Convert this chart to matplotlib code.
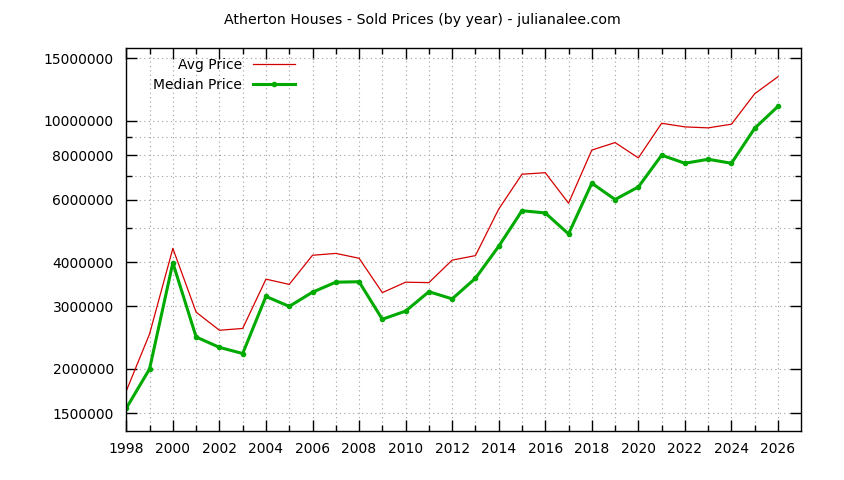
import matplotlib
matplotlib.use("Agg")
import matplotlib.pyplot as plt
from matplotlib.ticker import FixedLocator, NullFormatter

years = list(range(1998, 2027))
avg_price = [1733000, 2510000, 4370000, 2890000, 2570000, 2600000, 3580000, 3460000,
             4180000, 4230000, 4100000, 3280000, 3510000, 3500000, 4050000, 4170000,
             5640000, 7070000, 7140000, 5860000, 8270000, 8680000, 7860000, 9840000,
             9610000, 9550000, 9780000, 11920000, 13310000]
median_price = [1550000, 2000000, 3980000, 2460000, 2300000, 2210000, 3200000, 3000000,
                3290000, 3510000, 3520000, 2760000, 2910000, 3300000, 3150000, 3600000,
                4430000, 5580000, 5500000, 4800000, 6670000, 6000000, 6510000, 8000000,
                7590000, 7790000, 7590000, 9530000, 10980000]
y_ticks = [1500000, 2000000, 3000000, 4000000, 6000000, 8000000, 10000000, 15000000]
y_minor = [5000000, 7000000, 9000000]
x_ticks = list(range(1998, 2027, 2))
title = "Atherton Houses - Sold Prices (by year) - julianalee.com"

plt.rcParams['font.family'] = ['DejaVu Sans']
fig = plt.figure(figsize=(8.44, 4.8), dpi=100)
ax = fig.add_axes([126.3/844, 1-431/480, (801.3-126.3)/844, (431-48.3)/480])

ax.plot(years, avg_price, color='#d40000', lw=0.9, label='Avg Price')
ax.plot(years, median_price, color='#00aa00', lw=2.2, marker='o', markersize=3,
        label='Median Price')

ax.set_yscale('log')
ax.set_ylim(1337000, 16000000)
ax.set_xlim(1998, 2027)
ax.yaxis.set_major_locator(FixedLocator(y_ticks))
ax.yaxis.set_minor_locator(FixedLocator(y_minor))
ax.yaxis.set_minor_formatter(NullFormatter())
ax.set_yticklabels([str(v) for v in y_ticks])
ax.xaxis.set_major_locator(FixedLocator(x_ticks))
ax.xaxis.set_minor_locator(FixedLocator([y for y in years if y % 2 == 1]))
ax.set_xticklabels([str(v) for v in x_ticks])

ax.tick_params(which='major', direction='in', top=True, right=True, labelsize=10,
               length=8, width=1, color='black')
ax.tick_params(which='minor', direction='in', top=True, right=True,
               length=4, width=1, color='black')
ax.tick_params(axis='x', which='major', pad=8)
ax.tick_params(axis='y', which='major', pad=9)
ax.grid(True, which='both', color='#a0a0a0', linestyle=(0, (1, 3)), linewidth=0.8)
for s in ax.spines.values():
    s.set_linewidth(1)

leg = ax.legend(loc='upper left', bbox_to_anchor=(0.025, 1.0), frameon=False,
                markerfirst=False, fontsize=10, handlelength=3.0,
                handletextpad=0.8, labelspacing=0.45, borderaxespad=0.3)
for t in leg.get_texts():
    t.set_ha('right')
leg._legend_box.align = 'right'

fig.text(0.5, 1-20/480, title, ha='center', va='center', fontsize=10.2)
fig.savefig('out.png', dpi=100)
